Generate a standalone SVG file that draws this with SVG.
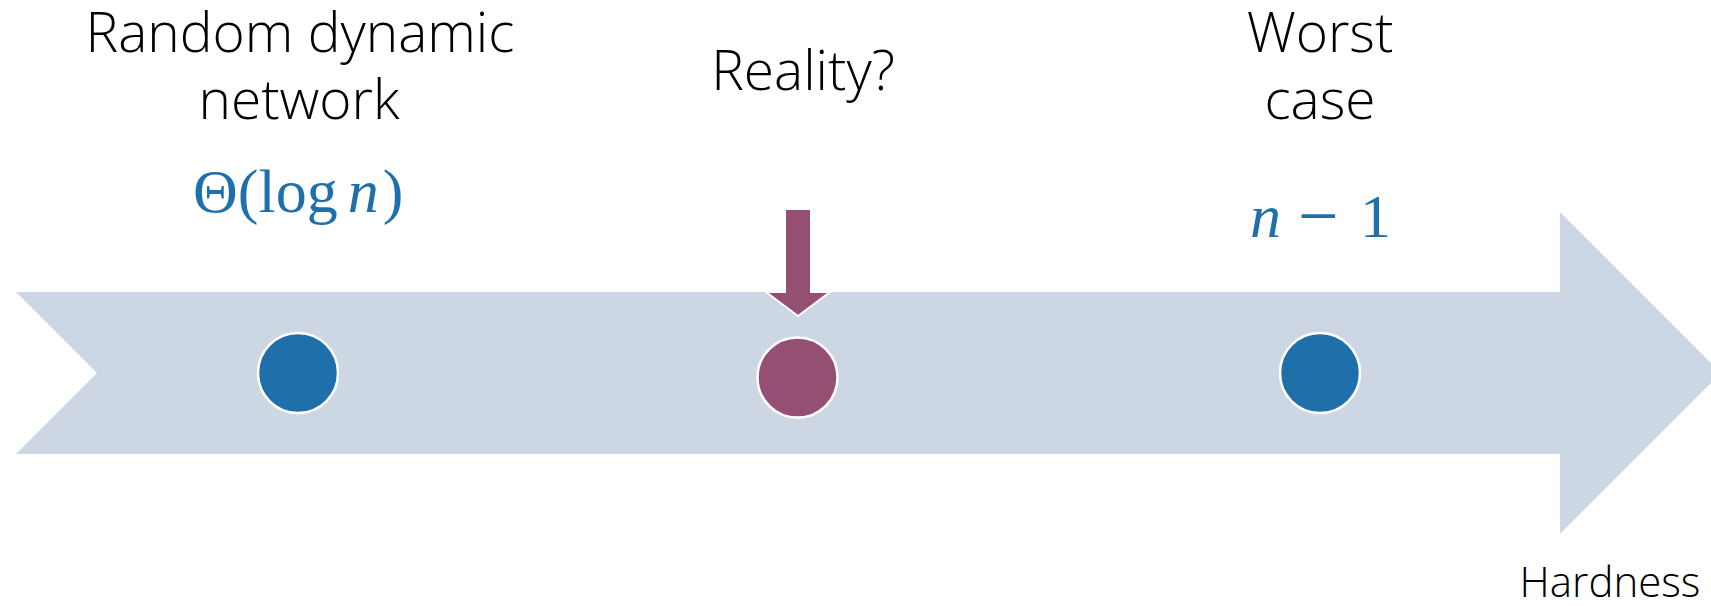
<svg xmlns="http://www.w3.org/2000/svg" width="1711" height="606" viewBox="0 0 1711 606">
<style>
.lbl{font-family:"Open Sans","Liberation Sans",sans-serif;font-weight:300;font-size:55px;fill:#000;text-anchor:middle}
.small{font-size:42px}
.math{font-family:"Liberation Serif","DejaVu Serif",serif;font-size:62px;fill:#1F70AA}
.it{font-style:italic}
.dot{stroke:#fff;stroke-width:2.5}
</style>
<rect width="1711" height="606" fill="#fff"/>
<g id="timeline">
<polygon points="16,292 1560,292 1560,212 1721,373 1560,534 1560,454 16,454 97,373" fill="#CDD7E3"/>
</g>
<g id="node-random">
<text class="lbl" x="300" y="52">Random dynamic</text>
<text class="lbl" x="299" y="119">network</text>
<text class="math" x="193" y="212">Θ(log<tspan dx="10" class="it">n</tspan><tspan dx="4">)</tspan></text>
<circle class="dot" cx="298" cy="373" r="40" fill="#1F70AA"/>
</g>
<g id="node-reality">
<text class="lbl" x="803" y="90">Reality?</text>
<circle class="dot" cx="797.5" cy="377.5" r="40" fill="#954F72"/>
</g>
<g id="node-worst">
<text class="lbl" x="1320" y="52">Worst</text>
<text class="lbl" x="1320" y="119">case</text>
<text class="math" y="237"><tspan x="1250" class="it">n</tspan><tspan x="1298" font-size="72" dy="3">−</tspan><tspan x="1360" dy="-3">1</tspan></text>
<circle class="dot" cx="1320" cy="373" r="40" fill="#1F70AA"/>
</g>
<g id="connectors">
<polygon points="785,209 811,209 811,292 830,292 798,316 766,292 785,292" fill="#954F72" stroke="#fff" stroke-width="2" stroke-linejoin="miter"/>
</g>
<g id="axis-label">
<text class="lbl small" x="1610" y="597">Hardness</text>
</g>
</svg>
